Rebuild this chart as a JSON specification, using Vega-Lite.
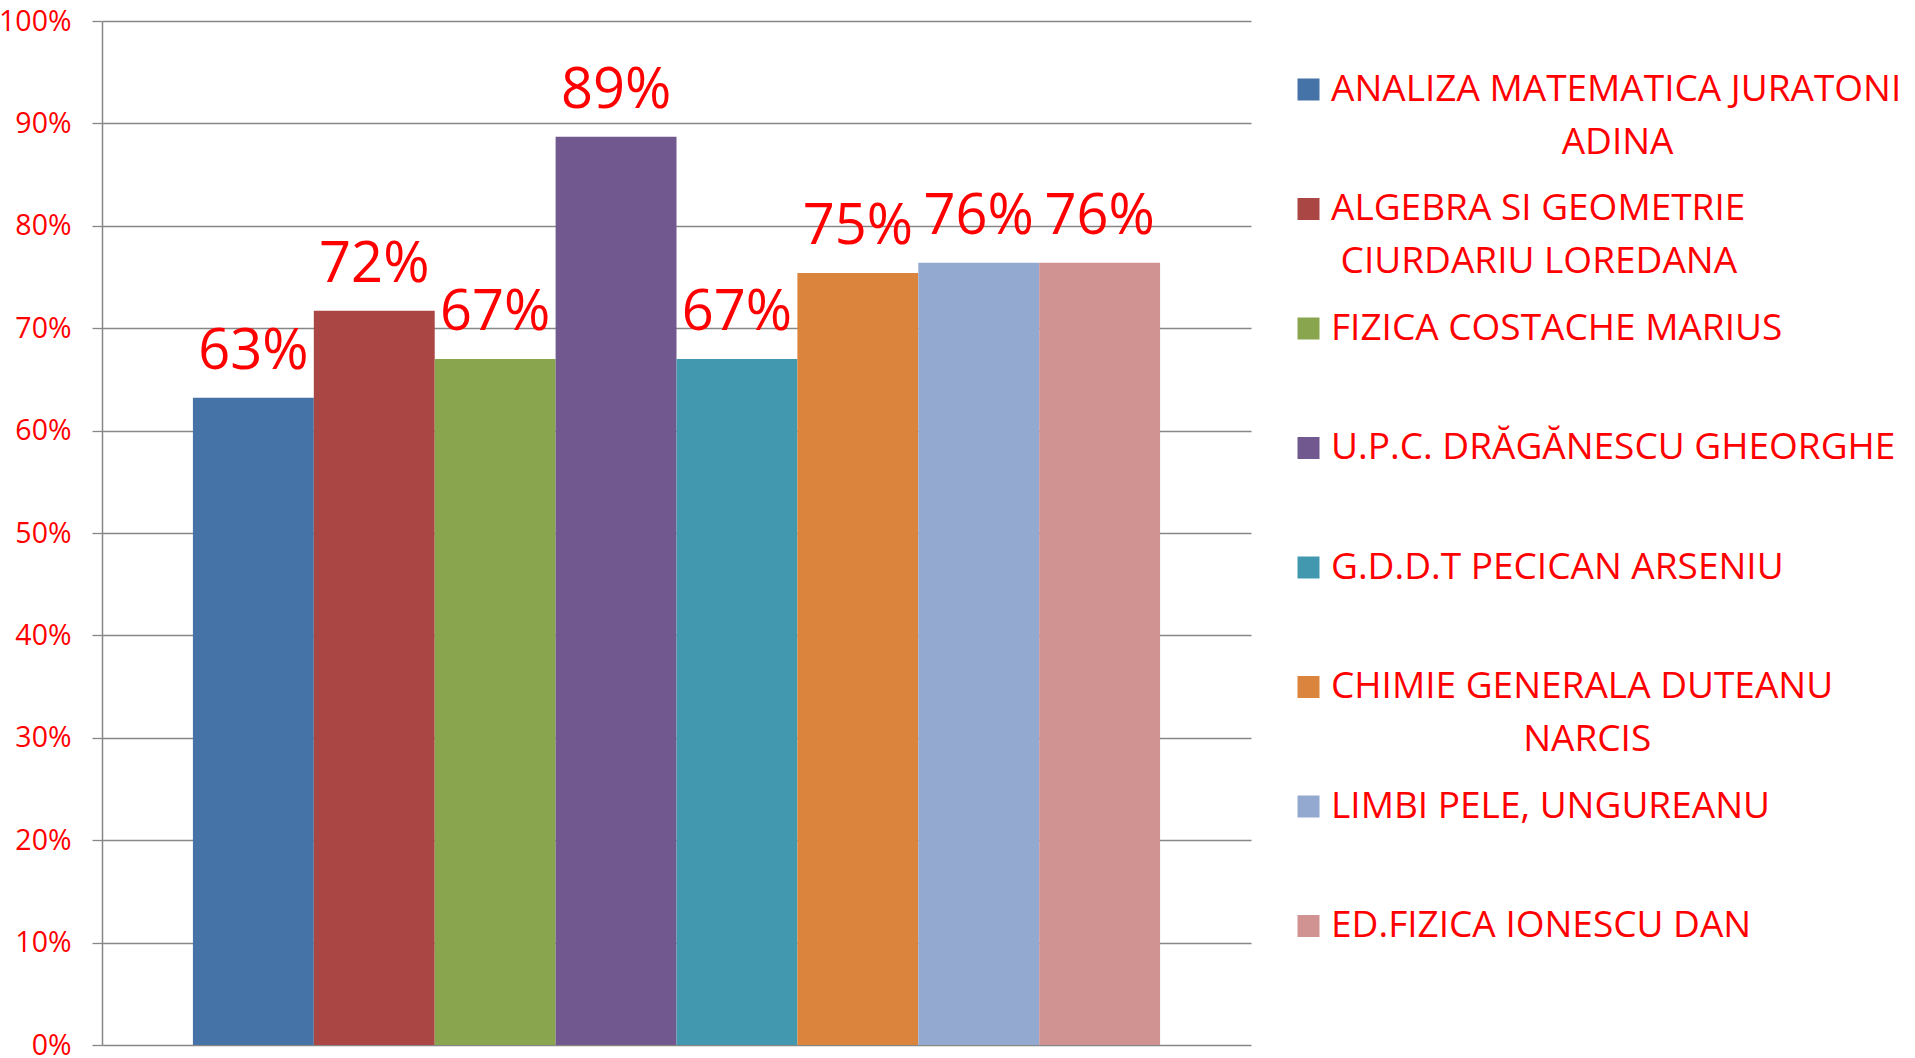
{
  "$schema": "https://vega.github.io/schema/vega-lite/v6.json",
  "width": 1149,
  "height": 1024,
  "padding": {"left": 102, "top": 21, "right": 664, "bottom": 13},
  "autosize": {"type": "none"},
  "background": "white",
  "config": {"view": {"stroke": null}, "font": "Open Sans"},
  "data": {
    "values": [
      {"series": "ANALIZA MATEMATICA JURATONI ADINA", "value": 0.632},
      {"series": "ALGEBRA SI GEOMETRIE CIURDARIU LOREDANA", "value": 0.717},
      {"series": "FIZICA COSTACHE MARIUS", "value": 0.670},
      {"series": "U.P.C. DRĂGĂNESCU GHEORGHE", "value": 0.887},
      {"series": "G.D.D.T PECICAN ARSENIU", "value": 0.670},
      {"series": "CHIMIE GENERALA DUTEANU NARCIS", "value": 0.754},
      {"series": "LIMBI PELE, UNGUREANU", "value": 0.764},
      {"series": "ED.FIZICA IONESCU DAN", "value": 0.764}
    ]
  },
  "encoding": {
    "x": {
      "field": "series",
      "type": "nominal",
      "sort": null,
      "axis": null,
      "scale": {"paddingInner": 0, "paddingOuter": 0.752}
    },
    "y": {
      "field": "value",
      "type": "quantitative",
      "scale": {"domain": [0, 1], "nice": false, "zero": true},
      "axis": {
        "values": [0, 0.1, 0.2, 0.3, 0.4, 0.5, 0.6, 0.7, 0.8, 0.9, 1],
        "format": ".0%",
        "title": null,
        "grid": true,
        "gridColor": "#878787",
        "gridWidth": 1.3,
        "domainColor": "#878787",
        "domainWidth": 1.5,
        "tickColor": "#878787",
        "tickWidth": 1.3,
        "tickSize": 10,
        "labelFont": "Open Sans",
        "labelFontSize": 28.5,
        "labelColor": "#FF0000",
        "labelPadding": 21
      }
    }
  },
  "layer": [
    {
      "mark": {"type": "bar"},
      "encoding": {
        "color": {
          "field": "series",
          "type": "nominal",
          "sort": null,
          "scale": {"range": ["#4572A7", "#AA4643", "#89A54E", "#71588F", "#4198AF", "#DB843D", "#93A9CF", "#D19392"]},
          "legend": {
            "title": null,
            "orient": "none",
            "legendX": 1188,
            "legendY": 50,
            "padding": 0,
            "symbolType": "square",
            "symbolSize": 484,
            "symbolStrokeWidth": 0,
            "symbolOpacity": 1,
            "labelFont": "Open Sans",
            "labelFontSize": 37,
            "labelColor": "#FF0000",
            "labelOffset": 4,
            "labelLimit": 800,
            "labelBaseline": "line-top",
            "rowPadding": 28.5,
            "gridAlign": "all",
            "labelExpr": "datum.label == 'ANALIZA MATEMATICA JURATONI ADINA' ? ['ANALIZA MATEMATICA JURATONI', '\u200b' + pad('', 24, '\u00a0') + 'ADINA'] : datum.label == 'ALGEBRA SI GEOMETRIE CIURDARIU LOREDANA' ? ['ALGEBRA SI GEOMETRIE', '\u200b' + pad('', 1, '\u00a0') + 'CIURDARIU LOREDANA'] : datum.label == 'CHIMIE GENERALA DUTEANU NARCIS' ? ['CHIMIE GENERALA DUTEANU', '\u200b' + pad('', 20, '\u00a0') + 'NARCIS'] : datum.label",
            "encode": {"labels": {"update": {"dy": {"value": -26}, "lineHeight": {"value": 53}}}}
          }
        }
      }
    },
    {
      "mark": {"type": "text", "dy": -29, "baseline": "alphabetic", "align": "center", "font": "Open Sans", "fontSize": 56, "color": "#FF0000"},
      "encoding": {"text": {"field": "value", "type": "quantitative", "format": ".0%"}}
    }
  ]
}
